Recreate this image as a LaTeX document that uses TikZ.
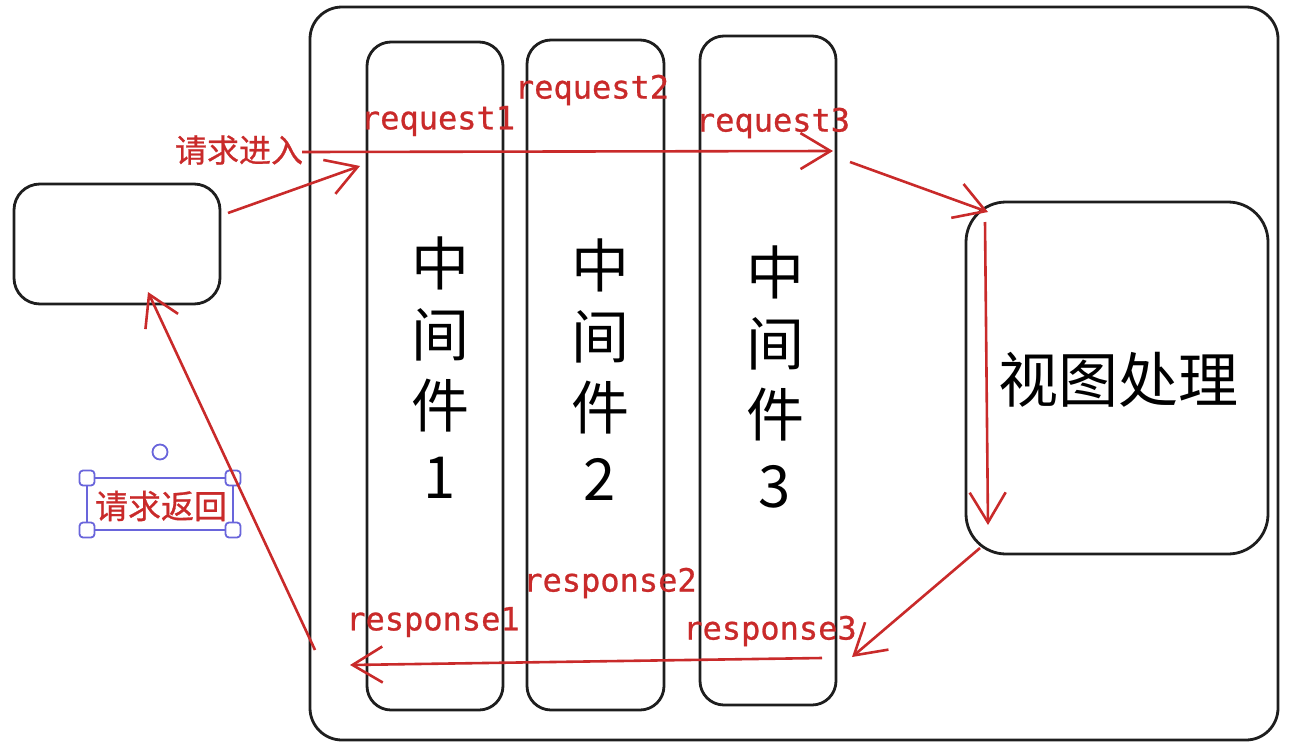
\documentclass[tikz,border=0pt]{standalone}
\usepackage{fontspec}
\newfontfamily\cjk{Noto Sans CJK SC}
\newfontfamily\cjkb[FakeBold=0.8]{Noto Sans CJK SC}
\newfontfamily\mono[FakeBold=0.8]{DejaVu Sans Mono}
\usetikzlibrary{arrows.meta}
\definecolor{exred}{RGB}{201,42,42}
\definecolor{exink}{RGB}{30,30,30}
\definecolor{exsel}{RGB}{105,101,219}
\tikzset{
  x=1pt,y=-1pt,
  box/.style={draw=exink,line width=2.8pt,rounded corners=#1},
  lbl/.style={text=exred,font=\fontsize{32}{32}\selectfont\mono,inner sep=0pt},
  cjklbl/.style={text=exred,font=\fontsize{32}{32}\selectfont\cjkb,inner sep=0pt},
  stack/.style={text=black,font=\fontsize{58}{71}\selectfont\cjk,align=center,inner sep=0pt},
  flow/.style={draw=exred,line width=2.6pt,-{Straight Barb[length=30pt,width=36pt,line width=2.6pt]}},
  handle/.style={draw=exsel,fill=white,line width=1.8pt,rounded corners=3.5pt,minimum size=15pt,inner sep=0pt}
}
\begin{document}
\begin{tikzpicture}
\useasboundingbox (0,0) rectangle (1290,747);
% outer container
\draw[box=32pt] (310,7) rectangle (1278,740);
% client box
\draw[box=26pt] (14,184) rectangle (220,304);
% middleware columns
\draw[box=24pt] (367,42) rectangle (503,710);
\draw[box=24pt] (527,40) rectangle (664,710);
\draw[box=24pt] (700,36) rectangle (836,705);
% view box
\draw[box=40pt] (966,202) rectangle (1268,554);
% texts
\node[stack] (m1) at (440,368) {中\\间\\件\\1};
\node[stack] (m2) at (600,370) {中\\间\\件\\2};
\node[stack] (m3) at (775,377) {中\\间\\件\\3};
\node[text=black,font=\fontsize{60}{60}\selectfont\cjk,inner sep=0pt] (view) at (1118,380) {视图处理};
% labels
\node[lbl] (rq1) at (438,121) {request1};
\node[lbl] (rq2) at (592,90) {request2};
\node[lbl] (rq3) at (773,123) {request3};
\node[lbl] (rs1) at (433,622) {response1};
\node[lbl] (rs2) at (610,583) {response2};
\node[lbl] (rs3) at (770,631) {response3};
\node[cjklbl] (in) at (239,150) {请求进入};
\node[cjklbl,font=\fontsize{33}{33}\selectfont\cjkb] (back) at (161,506) {请求返回};
% selection frame around 请求返回
\draw[exsel,line width=1.8pt] (87,478) rectangle (233,530);
\node[handle] (h1) at (87,478) {};
\node[handle] (h2) at (233,478) {};
\node[handle] (h3) at (87,530) {};
\node[handle] (h4) at (233,530) {};
\node[draw=exsel,fill=white,line width=1.8pt,circle,minimum size=15pt,inner sep=0pt] (rot) at (160,452) {};
% connector end points
\coordinate (c1s) at (228,213);
\coordinate (c1e) at (360,166);
\coordinate (c2s) at (302,152);
\coordinate (c2e) at (833,151);
\coordinate (c3s) at (850,162);
\coordinate (c3e) at (988,212);
\coordinate (c4s) at (985,222);
\coordinate (c4e) at (988,525);
\coordinate (c5s) at (980,548);
\coordinate (c5e) at (852,657);
\coordinate (c6s) at (822,658);
\coordinate (c6e) at (350,665);
\coordinate (c7s) at (315,650);
\coordinate (c7e) at (148,292);
% connectors
\draw[flow] (c1s) -- (c1e);
\draw[flow] (c2s) -- (c2e);
\draw[flow] (c3s) -- (c3e);
\draw[flow] (c4s) -- (c4e);
\draw[flow] (c5s) -- (c5e);
\draw[flow] (c6s) -- (c6e);
\draw[flow] (c7s) -- (c7e);
\end{tikzpicture}
\end{document}
